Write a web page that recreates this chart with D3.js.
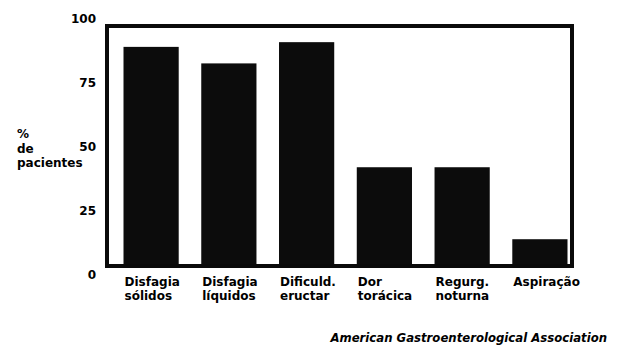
<!DOCTYPE html>
<html>
<head>
<meta charset="utf-8">
<script src="https://cdn.jsdelivr.net/npm/d3@7/dist/d3.min.js"></script>
<style>
  html, body { margin: 0; padding: 0; background: #fff; }
  text { font-family: "DejaVu Sans", Verdana, sans-serif; font-weight: bold; fill: #000; }
</style>
</head>
<body>
<svg id="chart" width="618" height="345"></svg>
<script>
const categories = [
  ["Disfagia", "sólidos"],
  ["Disfagia", "líquidos"],
  ["Dificuld.", "eructar"],
  ["Dor", "torácica"],
  ["Regurg.", "noturna"],
  ["Aspiração"]
];
const values = [92, 85, 94, 41, 41, 10.5];
const tickValues = [0, 25, 50, 75, 100];
const yTitle = ["%", "de", "pacientes"];
const source = "American Gastroenterological Association";

const svg = d3.select("#chart");

const x = d3.scaleBand()
  .domain(d3.range(categories.length))
  .range([123.5, 567.5])
  .paddingInner(0.29)
  .paddingOuter(0);

const y = d3.scaleLinear().domain([0, 100]).range([264, 28]);
// tick labels are spread a bit wider than the plot frame in the original
const yLabel = d3.scaleLinear().domain([0, 100]).range([278.5, 23]);

// bars
svg.append("g").selectAll("rect")
  .data(values)
  .join("rect")
  .attr("x", (d, i) => x(i))
  .attr("y", d => y(d))
  .attr("width", x.bandwidth())
  .attr("height", d => 266 - y(d))
  .attr("fill", "#0c0c0c");

// frame
svg.append("rect")
  .attr("x", 107).attr("y", 26)
  .attr("width", 465).attr("height", 240)
  .attr("fill", "none")
  .attr("stroke", "#0a0a0a")
  .attr("stroke-width", 4);

// y tick labels
svg.append("g").selectAll("text")
  .data(tickValues)
  .join("text")
  .attr("x", 96)
  .attr("y", d => yLabel(d))
  .attr("text-anchor", "end")
  .attr("font-size", 12)
  .text(d => d);

// y title
svg.append("g").selectAll("text")
  .data(yTitle)
  .join("text")
  .attr("x", 17)
  .attr("y", (d, i) => 138 + i * 14.5)
  .attr("font-size", 12)
  .text(d => d);

// category labels
const cat = svg.append("g").selectAll("text")
  .data(categories)
  .join("text")
  .attr("x", (d, i) => x(i) + 1)
  .attr("y", 286)
  .attr("font-size", 12);
cat.selectAll("tspan")
  .data(d => d)
  .join("tspan")
  .attr("x", function () { return d3.select(this.parentNode).attr("x"); })
  .attr("dy", (d, i) => i === 0 ? 0 : 14)
  .text(d => d);

// source
svg.append("text")
  .attr("x", 607)
  .attr("y", 342)
  .attr("text-anchor", "end")
  .attr("font-size", 11.7)
  .attr("font-style", "italic")
  .text(source);
</script>
</body>
</html>
